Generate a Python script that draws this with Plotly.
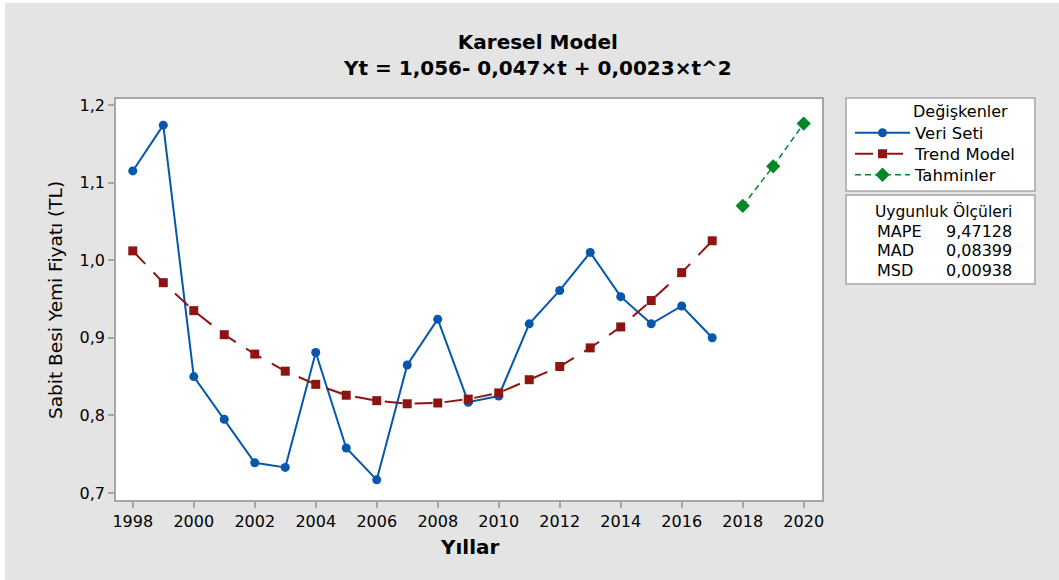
import plotly.graph_objects as go

years_data = list(range(1998, 2018))
veri_seti = [1.115, 1.174, 0.850, 0.795, 0.739, 0.733, 0.881, 0.758, 0.717, 0.865,
             0.924, 0.817, 0.825, 0.918, 0.961, 1.010, 0.953, 0.918, 0.941, 0.900]
trend_model = [1.012, 0.971, 0.935, 0.904, 0.879, 0.857, 0.840, 0.826, 0.819, 0.815,
               0.816, 0.821, 0.829, 0.846, 0.863, 0.887, 0.914, 0.948, 0.984, 1.025]
years_fc = [2018, 2019, 2020]
tahminler = [1.070, 1.121, 1.176]

x_ticks = list(range(1998, 2021, 2))
y_ticks = [0.7, 0.8, 0.9, 1.0, 1.1, 1.2]

title_lines = ["Karesel Model", "Yt = 1,056- 0,047×t + 0,0023×t^2"]
legend_title = "Değişkenler"
stats_title = "Uygunluk Ölçüleri"
stats_names = ["MAPE", "MAD", "MSD"]
stats_vals = ["9,47128", "0,08399", "0,00938"]

BLUE = "#0457ab"
RED = "#8e1414"
GREEN = "#03862a"
FONT = "DejaVu Sans"
GRAY_BG = "#e4e4e4"
AX = "#a6a6a6"

# page offset of the figure (body margin set below)
OX, OY = 5, 3
W, H = 1059 - OX, 580 - OY
# plot area in page pixels: x 116..822, y 99..500
L, R, T, B = 116 - OX, 1059 - 822, 99 - OY, 580 - 500
pw, ph = W - L - R, H - T - B


def px(x):
    return (x - OX - L) / pw


def py(y):
    return (H - B - (y - OY)) / ph


fig = go.Figure()
fig.add_trace(go.Scatter(x=years_data, y=veri_seti, mode="lines+markers", name="Veri Seti",
                         line=dict(color=BLUE, width=2),
                         marker=dict(symbol="circle", size=9, color=BLUE),
                         legend="legend"))
fig.add_trace(go.Scatter(x=years_data, y=trend_model, mode="lines+markers", name="Trend Model",
                         line=dict(color=RED, width=2, dash="18px,12px"),
                         marker=dict(symbol="square", size=9, color=RED),
                         legend="legend2"))
fig.add_trace(go.Scatter(x=years_fc, y=tahminler, mode="lines+markers", name="Tahminler",
                         line=dict(color=GREEN, width=1.5, dash="6px,4px"),
                         marker=dict(symbol="diamond", size=11, color=GREEN),
                         legend="legend3"))

shapes = [
    dict(type="rect", xref="paper", yref="paper", x0=px(846), x1=px(1035), y0=py(191), y1=py(98),
         fillcolor="white", line=dict(color=AX, width=1.5), layer="below"),
    dict(type="rect", xref="paper", yref="paper", x0=px(846), x1=px(1035), y0=py(284), y1=py(195),
         fillcolor="white", line=dict(color=AX, width=1.5), layer="below"),
]

annotations = [
    dict(text="<br>".join(title_lines), xref="paper", yref="paper", x=px(537), y=py(55),
         xanchor="center", yanchor="middle", showarrow=False,
         font=dict(family=FONT, size=20, color="black", weight="bold")),
    dict(text="Sabit Besi Yemi Fiyatı (TL)", xref="paper", yref="paper", x=px(55), y=py(300),
         xanchor="center", yanchor="middle", textangle=-90, showarrow=False,
         font=dict(family=FONT, size=18.5, color="black")),
    dict(text="Yıllar", xref="paper", yref="paper", x=px(470), y=py(547),
         xanchor="center", yanchor="middle", showarrow=False,
         font=dict(family=FONT, size=20, color="black", weight="bold")),
    dict(text=legend_title, xref="paper", yref="paper", x=px(960), y=py(112),
         xanchor="center", yanchor="middle", showarrow=False, borderpad=0,
         font=dict(family=FONT, size=16, color="black")),
    dict(text=stats_title, xref="paper", yref="paper", x=px(943), y=py(211),
         xanchor="center", yanchor="middle", showarrow=False, borderpad=0,
         font=dict(family=FONT, size=15.5, color="black")),
]
for i, (n, v) in enumerate(zip(stats_names, stats_vals)):
    yy = 231 + i * 19.5
    annotations.append(dict(text=n, xref="paper", yref="paper", x=px(876), y=py(yy),
                            xanchor="left", yanchor="middle", showarrow=False, borderpad=0,
                            font=dict(family=FONT, size=16, color="black")))
    annotations.append(dict(text=v, xref="paper", yref="paper", x=px(945), y=py(yy),
                            xanchor="left", yanchor="middle", showarrow=False, borderpad=0,
                            font=dict(family=FONT, size=16, color="black")))

leg_common = dict(xanchor="left", yanchor="middle", bgcolor="rgba(0,0,0,0)", borderwidth=0,
                  font=dict(family=FONT, size=16.5, color="black"), itemwidth=55)

fig.update_layout(
    width=W, height=H,
    margin=dict(l=L, r=R, t=T, b=B),
    paper_bgcolor=GRAY_BG, plot_bgcolor="white",
    separators=",.",
    font=dict(family=FONT, size=16, color="black"),
    showlegend=True,
    legend=dict(x=px(850), y=py(133), **leg_common),
    legend2=dict(x=px(850), y=py(154), **leg_common),
    legend3=dict(x=px(850), y=py(175), **leg_common),
    shapes=shapes,
    annotations=annotations,
)
fig.update_xaxes(range=[1997.45, 2020.6], tickmode="array", tickvals=x_ticks,
                 ticks="outside", ticklen=6, tickcolor=AX, tickwidth=1.5,
                 showgrid=False, zeroline=False, showline=True, linecolor=AX, linewidth=1.5,
                 mirror=True, tickfont=dict(family=FONT, size=16, color="black"))
fig.update_yaxes(range=[0.691, 1.2077], tickmode="array", tickvals=y_ticks, tickformat=".1f",
                 ticks="outside", ticklen=6, tickcolor=AX, tickwidth=1.5,
                 showgrid=False, zeroline=False, showline=True, linecolor=AX, linewidth=1.5,
                 mirror=True, tickfont=dict(family=FONT, size=16, color="black"))

fig.write_html("out.html",
               post_script="document.body.style.margin='%dpx 0 0 %dpx';" % (OY, OX))
